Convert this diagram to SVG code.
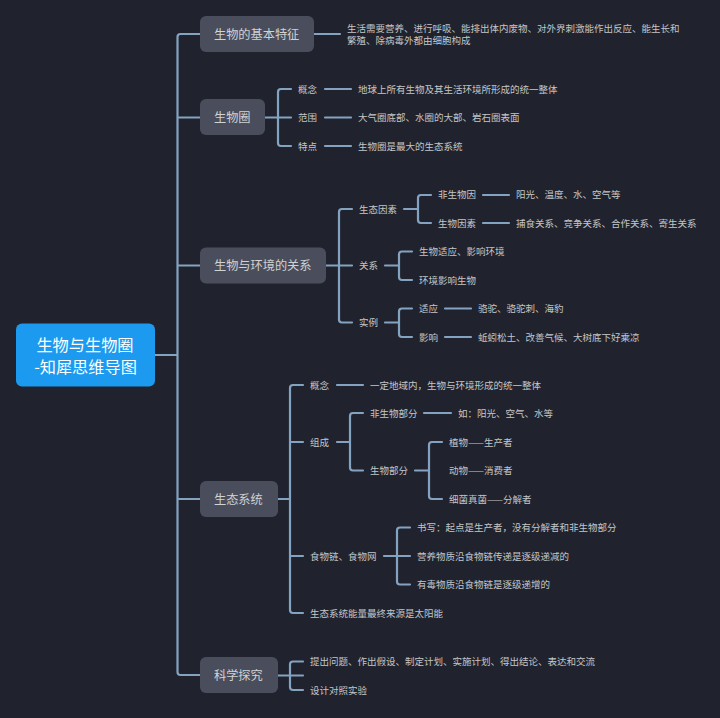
<svg xmlns="http://www.w3.org/2000/svg" width="720" height="718" viewBox="0 0 720 718">
<style>
text{font-family:"Noto Sans CJK SC","Noto Sans",sans-serif;font-size:9.5px;fill:#c4c6c8}
.l1 text{font-size:12.2px;fill:#d0d2d4}
.l1 rect{fill:#4a4e5c}
#connectors path{fill:none;stroke:#84a3c0;stroke-width:2.2;stroke-linecap:round}
#root rect{fill:#1b9af0}
#root text{font-size:16.2px;fill:#fff;text-anchor:middle}
</style>
<rect width="720" height="718" fill="#20232e"/>
<g id="connectors">
<path d="M155 355H177.5M200 34H180.5Q177.5 34 177.5 37V672Q177.5 675 180.500 675H200M177.500 117.500H200M177.500 265.500H200M177.500 499H200"/>
<path d="M314 34H340"/>
<path d="M265 117.500H291M291 89H281Q278 89 278 92V143Q278 146 281 146H291M325 89H351M325 117.500H351M325 146H351"/>
<path d="M326 265.500H352M352 209H342Q339 209 339 212V319.500Q339 322.500 342 322.500H352"/>
<path d="M404 209H418M431 195H421Q418 195 418 198V220Q418 223 421 223H431M483 195H509M483 223H509"/>
<path d="M385 265.500H399M412 251.500H402Q399 251.500 399 254.500V277Q399 280 402 280H412"/>
<path d="M385 322.500H399M412 308.500H402Q399 308.500 399 311.500V334Q399 337 402 337H412M445 308.500H471M445 337H471"/>
<path d="M278 499H290M303 385H293Q290 385 290 388V610Q290 613 293 613H303M290 442H303M290 556H303M337 385H363"/>
<path d="M337 442H350M363 413H353Q350 413 350 416V467.500Q350 470.500 353 470.500H363M424 413H451"/>
<path d="M415 470.500H429M442 442H432Q429 442 429 445V496Q429 499 432 499H442"/>
<path d="M384 556H410M410 527.500H400Q397 527.500 397 530.500V581.500Q397 584.500 400 584.500H410"/>
<path d="M278 675.500H303M303 661.500H293Q290 661.500 290 664.500V687Q290 690 293 690H303"/>
</g>
<g id="root"><rect x="16" y="323.500" width="139" height="63" rx="6"/><text><tspan x="85" y="351">生物与生物圈</tspan><tspan x="85.500" y="372.500">-知犀思维导图</tspan></text></g>
<g id="n1" class="l1"><rect x="200" y="16" width="114" height="36" rx="6"/><text x="214" y="38.500">生物的基本特征</text></g>
<g id="n2" class="l1"><rect x="200" y="99" width="65" height="36" rx="6"/><text x="214" y="122">生物圈</text></g>
<g id="n3" class="l1"><rect x="200" y="247.500" width="126" height="36" rx="6"/><text x="214" y="270">生物与环境的关系</text></g>
<g id="n4" class="l1"><rect x="200" y="481" width="78" height="36" rx="6"/><text x="214" y="503.500">生态系统</text></g>
<g id="n5" class="l1"><rect x="200" y="657" width="78" height="36" rx="6"/><text x="214" y="680">科学探究</text></g>
<g id="n1a"><text><tspan x="347" y="31.500">生活需要营养、进行呼吸、能排出体内废物、对外界刺激能作出反应、能生长和</tspan><tspan x="347" y="44">繁殖、除病毒外都由细胞构成</tspan></text></g>
<g id="n2a"><text x="298" y="92.500">概念</text></g>
<g id="n2a1"><text x="358" y="92.500">地球上所有生物及其生活环境所形成的统一整体</text></g>
<g id="n2b"><text x="298" y="121">范围</text></g>
<g id="n2b1"><text x="358" y="121">大气圈底部、水圈的大部、岩石圈表面</text></g>
<g id="n2c"><text x="298" y="149.500">特点</text></g>
<g id="n2c1"><text x="358" y="149.500">生物圈是最大的生态系统</text></g>
<g id="n3a"><text x="359" y="212.500">生态因素</text></g>
<g id="n3a1"><text x="438" y="198">非生物因</text></g>
<g id="n3a1a"><text x="516" y="198">阳光、温度、水、空气等</text></g>
<g id="n3a2"><text x="438" y="226.500">生物因素</text></g>
<g id="n3a2a"><text x="516" y="226.500">捕食关系、竞争关系、合作关系、寄生关系</text></g>
<g id="n3b"><text x="359" y="269">关系</text></g>
<g id="n3b1"><text x="419" y="255">生物适应、影响环境</text></g>
<g id="n3b2"><text x="419" y="283.500">环境影响生物</text></g>
<g id="n3c"><text x="359" y="326">实例</text></g>
<g id="n3c1"><text x="419" y="312">适应</text></g>
<g id="n3c1a"><text x="478" y="312">骆驼、骆驼刺、海豹</text></g>
<g id="n3c2"><text x="419" y="340.500">影响</text></g>
<g id="n3c2a"><text x="478" y="340.500">蚯蚓松土、改善气候、大树底下好乘凉</text></g>
<g id="n4a"><text x="310" y="388.500">概念</text></g>
<g id="n4a1"><text x="370" y="388.500">一定地域内，生物与环境形成的统一整体</text></g>
<g id="n4b"><text x="310" y="445.500">组成</text></g>
<g id="n4b1"><text x="370" y="417">非生物部分</text></g>
<g id="n4b1a"><text x="458" y="417">如：阳光、空气、水等</text></g>
<g id="n4b2"><text x="370" y="474">生物部分</text></g>
<g id="n4b2a"><text x="449" y="445.500">植物——生产者</text></g>
<g id="n4b2b"><text x="449" y="474">动物——消费者</text></g>
<g id="n4b2c"><text x="449" y="502.500">细菌真菌——分解者</text></g>
<g id="n4c"><text x="310" y="559.500">食物链、食物网</text></g>
<g id="n4c1"><text x="417" y="531">书写：起点是生产者，没有分解者和非生物部分</text></g>
<g id="n4c2"><text x="417" y="559.500">营养物质沿食物链传递是逐级递减的</text></g>
<g id="n4c3"><text x="417" y="588">有毒物质沿食物链是逐级递增的</text></g>
<g id="n4d"><text x="310" y="616.500">生态系统能量最终来源是太阳能</text></g>
<g id="n5a"><text x="310" y="665">提出问题、作出假设、制定计划、实施计划、得出结论、表达和交流</text></g>
<g id="n5b"><text x="310" y="693.500">设计对照实验</text></g>
</svg>
